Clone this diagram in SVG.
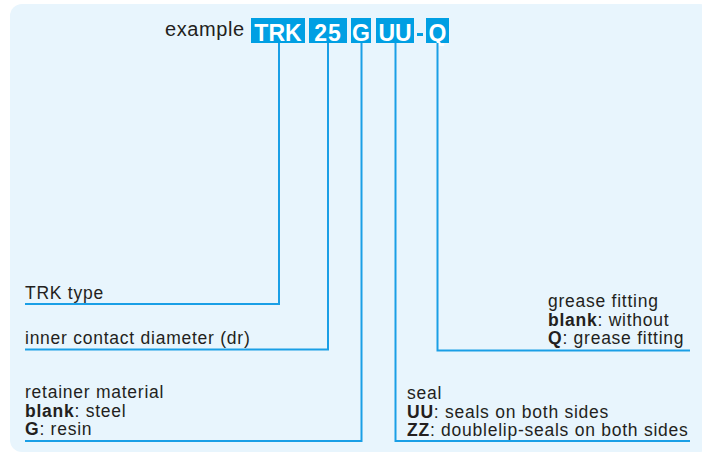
<svg xmlns="http://www.w3.org/2000/svg" width="702" height="453" viewBox="0 0 702 453">
  <style>
    .t { font-family: "Liberation Sans", Arial, sans-serif; font-size: 17.5px; letter-spacing: 0.75px; fill: #231f20; }
    .b { font-weight: bold; }
    .code { font-family: "Liberation Sans", Arial, sans-serif; font-size: 23px; font-weight: bold; fill: #ffffff; text-anchor: middle; }
    .box { fill: #009fe3; }
    .ln { fill: none; stroke: #1a9fe6; stroke-width: 2; }
  </style>
  <rect width="702" height="453" fill="#ffffff"/>
  <rect x="10" y="4" width="702" height="448" rx="12" fill="#e8f5fd"/>

  <g id="code">
    <text x="165" y="36" class="t" style="font-size:20px;letter-spacing:0.6px">example</text>
    <g id="box-TRK"><rect class="box" x="251" y="18" width="54" height="25"/><text class="code" x="278" y="41">TRK</text></g>
    <g id="box-25"><rect class="box" x="309" y="18" width="38" height="25"/><text class="code" x="328" y="41" style="letter-spacing:1px">25</text></g>
    <g id="box-G"><rect class="box" x="351" y="18" width="20" height="25"/><text class="code" x="361" y="41">G</text></g>
    <g id="box-UU"><rect class="box" x="376" y="18" width="38" height="25"/><text class="code" x="395" y="41">UU</text></g>
    <rect id="dash" class="box" x="417" y="33" width="6" height="3"/>
    <g id="box-Q"><rect class="box" x="426" y="18" width="23" height="25"/><text class="code" x="437.5" y="41">Q</text></g>
  </g>

  <g id="connectors">
    <polyline class="ln" points="279,43 279,304 25,304"/>
    <polyline class="ln" points="328,43 328,349.5 25,349.5"/>
    <polyline class="ln" points="361.5,43 361.5,441 25,441"/>
    <polyline class="ln" points="395.5,43 395.5,441 690,441"/>
    <polyline class="ln" points="437.5,43 437.5,350.5 690,350.5"/>
  </g>

  <g id="label-type">
    <text class="t" x="25" y="299">TRK type</text>
  </g>
  <g id="label-diameter">
    <text class="t" x="25" y="344">inner contact diameter (dr)</text>
  </g>
  <g id="label-retainer">
    <text class="t" x="25" y="398">retainer material</text>
    <text class="t" x="25" y="416.5"><tspan class="b">blank</tspan>: steel</text>
    <text class="t" x="25" y="435"><tspan class="b">G</tspan>: resin</text>
  </g>
  <g id="label-seal">
    <text class="t" x="407" y="399">seal</text>
    <text class="t" x="407" y="417.5"><tspan class="b">UU</tspan>: seals on both sides</text>
    <text class="t" x="407" y="436"><tspan class="b">ZZ</tspan>: doublelip-seals on both sides</text>
  </g>
  <g id="label-grease">
    <text class="t" x="548" y="306.5">grease fitting</text>
    <text class="t" x="548" y="325.5"><tspan class="b">blank</tspan>: without</text>
    <text class="t" x="548" y="344"><tspan class="b">Q</tspan>: grease fitting</text>
  </g>
</svg>
